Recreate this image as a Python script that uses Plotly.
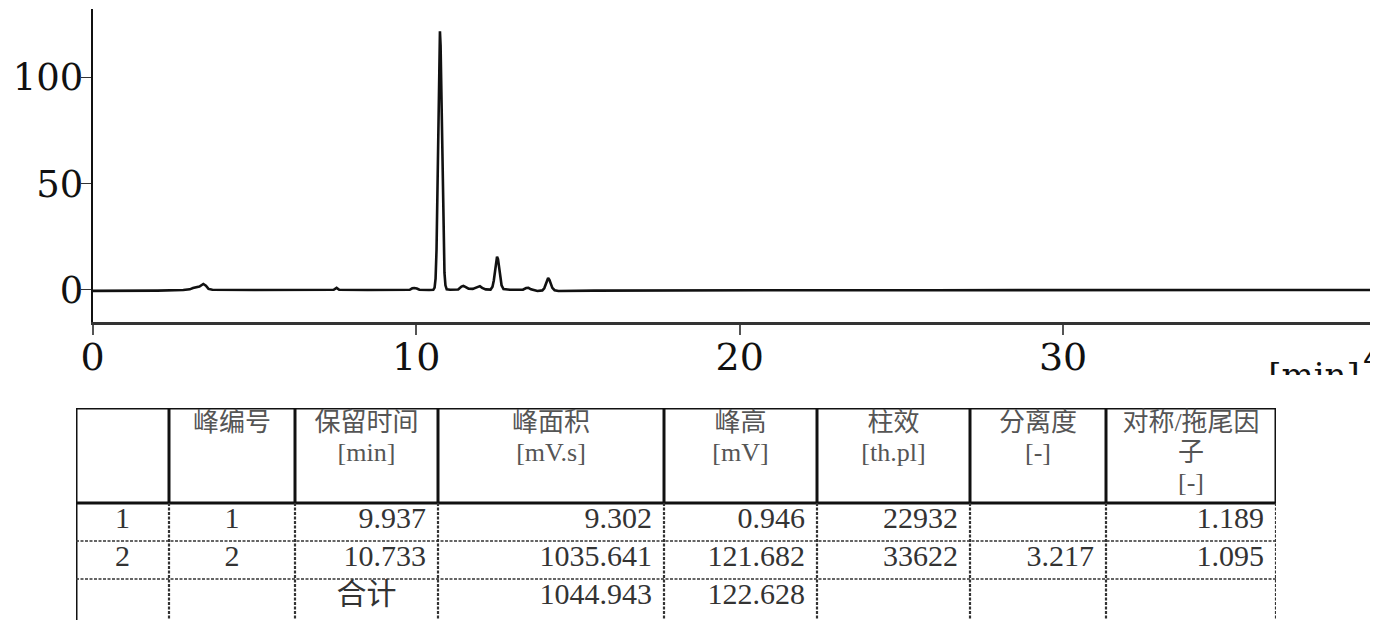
import plotly.graph_objects as go

W, H = 1378, 620          # reference picture size
OFF = 8                   # page body margin the browser adds around the figure
FW, FH = W - OFF, H - OFF # figure size so that it fills the window exactly

# ---------------- chromatogram values ----------------
time_min = [
    0.0, 1.0, 2.0, 2.8, 3.0, 3.1, 3.2, 3.3, 3.42, 3.5, 3.58, 3.7,
    5.0, 6.5, 7.45, 7.54, 7.62, 8.5, 9.8, 9.88, 9.94, 10.02, 10.10, 10.40,
    10.53, 10.57, 10.60, 10.63, 10.66, 10.69, 10.715, 10.735, 10.755, 10.785,
    10.815, 10.845, 10.875, 10.905, 10.945, 11.05,
    11.30, 11.40, 11.46, 11.52, 11.62, 11.75, 11.90, 11.97, 12.04, 12.15,
    12.30, 12.36, 12.40, 12.44, 12.47, 12.50, 12.53, 12.56, 12.60, 12.64, 12.70, 12.90,
    13.30, 13.40, 13.47, 13.55, 13.75, 13.90, 13.96, 14.00, 14.04, 14.08, 14.12,
    14.16, 14.21, 14.28, 14.40,
    15.5, 17.0, 20.0, 23.0, 26.0, 30.0, 34.0, 39.55,
]
signal_mv = [
    -0.4, -0.5, -0.3, 0.0, 0.3, 0.9, 1.1, 1.6, 2.8, 2.0, 0.5, 0.1,
    0.0, 0.0, 0.1, 1.0, 0.1, 0.0, 0.1, 0.8, 0.95, 0.7, 0.1, 0.0,
    0.07, 1.1, 5.3, 19.0, 49.0, 84.0, 113.0, 121.7, 115.0, 86.0,
    50.0, 22.7, 8.0, 2.2, 0.3, 0.1,
    0.2, 1.6, 1.9, 1.5, 0.6, 0.5, 1.2, 1.8, 1.0, 0.3,
    0.2, 1.5, 4.5, 9.5, 13.8, 15.7, 14.5, 10.5, 5.5, 2.2, 0.4, 0.1,
    0.1, 0.9, 1.0, 0.3, -0.5, -0.2, 0.8, 2.5, 4.6, 5.6, 4.8,
    2.8, 1.0, -0.1, -0.5,
    -0.3, -0.2, -0.2, -0.1, -0.1, 0.0, 0.0, 0.0,
]

x_ticks = [0, 10, 20, 30]
x_tick_labels = ["0", "10", "20", "30"]
y_ticks = [0, 50, 100]
y_tick_labels = ["0", "50", "100"]
x_next_tick = 40
x_unit = "[min]"

# ---------------- result table values ----------------
header = ["", "峰编号", "保留时间<br>[min]", "峰面积<br>[mV.s]", "峰高<br>[mV]",
          "柱效<br>[th.pl]", "分离度<br>[-]", "对称/拖尾因<br>子<br>[-]"]
row_no = ["1", "2", ""]
peak_no = ["1", "2", ""]
ret_time = [9.937, 10.733]
total_label = "合计"
peak_area = [9.302, 1035.641, 1044.943]
peak_height = [0.946, 121.682, 122.628]
plates = [22932, 33622, None]
resolution = [None, 3.217, None]
tailing = [1.189, 1.095, None]

# ---------------- layout constants (reference pixel positions) ----------------
def px(x):
    return (x - OFF) / FW

def py(y):
    return (H - y) / FH

X_RANGE = [0, 39.55]
Y_RANGE = [-15.2, 132.0]
x_dom = [px(92.7), px(1372)]
y_dom = [py(322.3), py(9.3)]

col_widths = [93, 126, 143, 226, 153, 153, 136, 170]
header_h, row_h, line_gap = 95, 38, 30
tab_left, tab_top = 76, 408
tab_w = sum(col_widths)
tab_h = H - tab_top

tick_font = dict(family="DejaVu Serif", size=38, color="#111")
table_font = "Liberation Serif, Noto Sans CJK SC"

fig = go.Figure()

# chromatogram
fig.add_trace(go.Scatter(
    x=time_min, y=signal_mv, mode="lines",
    line=dict(color="#111", width=2.6), hoverinfo="skip", showlegend=False,
))

# axis unit label, clipped so only its upper part shows, as in the picture
fig.add_trace(go.Scatter(
    x=[1314], y=[-378], mode="text", text=[x_unit], textposition="middle center",
    textfont=dict(family="DejaVu Serif", size=34, color="#111"),
    cliponaxis=True, xaxis="x2", yaxis="y2", hoverinfo="skip", showlegend=False,
))

# ---------------- table grid ----------------
xb = [0]
for w in col_widths:
    xb.append(xb[-1] + w)
row_bounds = [header_h + i * row_h for i in range(4)]

solid_x, solid_y = [], []
for yv in (0, header_h):
    solid_x += [0, tab_w, None]
    solid_y += [yv, yv, None]
for xv in xb:
    solid_x += [xv, xv, None]
    solid_y += [0, header_h, None]
solid_x += [0, 0, None]
solid_y += [header_h, tab_h, None]

vdash_x, vdash_y = [], []
for xv in xb[1:]:
    vdash_x += [xv, xv, None]
    vdash_y += [header_h, tab_h, None]
hdash_x, hdash_y = [], []
for yv in row_bounds[1:3]:
    hdash_x += [0, tab_w, None]
    hdash_y += [yv, yv, None]

common = dict(xaxis="x3", yaxis="y3", cliponaxis=False, hoverinfo="skip", showlegend=False)
fig.add_trace(go.Scatter(x=solid_x, y=solid_y, mode="lines", line=dict(color="#111", width=3), **common))
fig.add_trace(go.Scatter(x=vdash_x, y=vdash_y, mode="lines",
                         line=dict(color="#333", width=2.2, dash="3px,1.5px"), **common))
fig.add_trace(go.Scatter(x=hdash_x, y=hdash_y, mode="lines",
                         line=dict(color="#333", width=1.5, dash="3px,1.5px"), **common))

# header text, line by line
hx, hy, ht = [], [], []
for i, h in enumerate(header):
    if not h:
        continue
    for k, part in enumerate(h.split("<br>")):
        hx.append((xb[i] + xb[i + 1]) / 2)
        hy.append(16 + k * line_gap)
        ht.append(part)
fig.add_trace(go.Scatter(x=hx, y=hy, mode="text", text=ht, textposition="middle center",
                         textfont=dict(family=table_font, size=26, color="#555"), **common))

def fmt(v):
    if v is None:
        return ""
    if isinstance(v, int):
        return str(v)
    return f"{v:.3f}"

row_mid = [row_bounds[r] + row_h / 2 - 2 for r in range(3)]

# centred cells
cx, cy, ct = [], [], []
for col, vals in ((0, row_no), (1, peak_no)):
    for r, v in enumerate(vals):
        cx.append((xb[col] + xb[col + 1]) / 2)
        cy.append(row_mid[r])
        ct.append(v)
cx.append((xb[2] + xb[3]) / 2)
cy.append(row_mid[2])
ct.append(total_label)
fig.add_trace(go.Scatter(x=cx, y=cy, mode="text", text=ct, textposition="middle center",
                         textfont=dict(family=table_font, size=30, color="#333"), **common))

# right-aligned numeric cells
rx, ry, rt = [], [], []
for col, vals in ((2, ret_time), (3, peak_area), (4, peak_height),
                  (5, plates), (6, resolution), (7, tailing)):
    for r, v in enumerate(vals):
        s = fmt(v)
        if s:
            rx.append(xb[col + 1] - 12)
            ry.append(row_mid[r])
            rt.append(s)
fig.add_trace(go.Scatter(x=rx, y=ry, mode="text", text=rt, textposition="middle left",
                         textfont=dict(family=table_font, size=30, color="#333"), **common))

# ---------------- layout ----------------
x40 = x_dom[0] + (x_next_tick - X_RANGE[0]) / (X_RANGE[1] - X_RANGE[0]) * (x_dom[1] - x_dom[0])

fig.update_layout(
    width=FW, height=FH, autosize=False,
    margin=dict(l=0, r=0, t=0, b=0),
    paper_bgcolor="white", plot_bgcolor="rgba(0,0,0,0)",
    showlegend=False,
    xaxis=dict(domain=x_dom, range=X_RANGE, tickmode="array", tickvals=x_ticks, ticktext=x_tick_labels,
               ticks="outside", ticklen=10, tickwidth=1.5, tickcolor="#555",
               showline=True, linecolor="#333", linewidth=2.5, showgrid=False, zeroline=False,
               tickfont=tick_font, ticklabelstandoff=-11, automargin=False, fixedrange=True),
    yaxis=dict(domain=y_dom, range=Y_RANGE, tickmode="array", tickvals=y_ticks, ticktext=y_tick_labels,
               ticks="outside", ticklen=10, tickwidth=1.2, tickcolor="#333",
               showline=True, linecolor="#111", linewidth=2, showgrid=False, zeroline=False,
               tickfont=dict(family="DejaVu Serif", size=37, color="#111"),
               ticklabelstandoff=-10, automargin=False, fixedrange=True),
    xaxis2=dict(domain=[0, 1], range=[OFF, W], visible=False, anchor="y2", fixedrange=True),
    yaxis2=dict(domain=[py(375), py(350)], range=[-375, -350], visible=False,
                anchor="x2", fixedrange=True),
    xaxis3=dict(domain=[px(tab_left), px(tab_left + tab_w)], range=[0, tab_w], visible=False,
                anchor="y3", fixedrange=True),
    yaxis3=dict(domain=[0, py(tab_top)], range=[tab_h, 0], visible=False, anchor="x3", fixedrange=True),
    annotations=[dict(xref="paper", yref="paper", x=x40, y=py(333), xanchor="center",
                      yanchor="top", text=str(x_next_tick), showarrow=False, font=tick_font)],
)

fig.write_html("out.html")
